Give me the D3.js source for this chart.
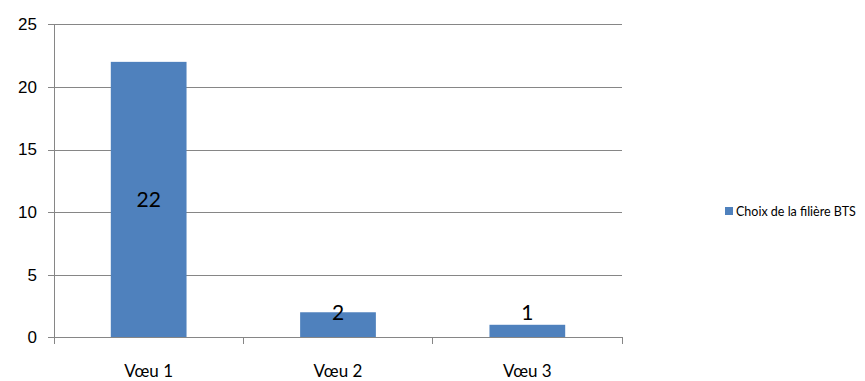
<!DOCTYPE html>
<html>
<head>
<meta charset="utf-8">
<script src="https://cdn.jsdelivr.net/npm/d3@7"></script>
<style>
  html, body { margin: 0; padding: 0; background: #fff; }
  svg { display: block; font-family: Lato, "Open Sans", sans-serif; }
</style>
</head>
<body>
<svg id="chart" width="865" height="381"></svg>
<script>
const categories = ["Vœu 1", "Vœu 2", "Vœu 3"];
const values = [22, 2, 1];
const yTicks = [0, 5, 10, 15, 20, 25];
const seriesName = "Choix de la filière BTS";

const W = 865, H = 381;
const margin = { top: 24.3, right: 243, bottom: 43.7, left: 54 };
const innerW = W - margin.left - margin.right;
const innerH = H - margin.top - margin.bottom;
const gridColor = "#868686";
const barColor = "#4F81BD";

const svg = d3.select("#chart");
const g = svg.append("g").attr("transform", `translate(${margin.left},${margin.top})`);

const x = d3.scaleBand().domain(categories).range([0, innerW]).paddingInner(0.6).paddingOuter(0.3);
const xCat = d3.scaleBand().domain(categories).range([0, innerW]);
const y = d3.scaleLinear().domain([0, 25]).range([innerH, 0]);

// horizontal gridlines + left ticks
g.append("g")
  .call(d3.axisLeft(y).tickValues(yTicks).tickSize(-innerW).tickPadding(17))
  .call(ax => ax.select(".domain").remove())
  .call(ax => ax.selectAll(".tick line").attr("stroke", gridColor).attr("x1", -6).attr("shape-rendering", "crispEdges"))
  .call(ax => ax.selectAll("text").attr("font-size", 17).attr("fill", "#000"));

// vertical axis line
g.append("line")
  .attr("x1", 0).attr("x2", 0).attr("y1", 0).attr("y2", innerH)
  .attr("stroke", gridColor).attr("shape-rendering", "crispEdges");

// bars
g.selectAll("rect.bar")
  .data(values)
  .join("rect")
  .attr("class", "bar")
  .attr("x", (d, i) => x(categories[i]))
  .attr("y", d => y(d))
  .attr("width", x.bandwidth())
  .attr("height", d => innerH - y(d))
  .attr("fill", barColor);

// bottom axis
g.append("line")
  .attr("x1", 0).attr("x2", innerW).attr("y1", innerH).attr("y2", innerH)
  .attr("stroke", gridColor).attr("shape-rendering", "crispEdges");
const bounds = categories.map(c => xCat(c)).concat([innerW]);
g.selectAll("line.xtick")
  .data(bounds)
  .join("line")
  .attr("class", "xtick")
  .attr("x1", d => d).attr("x2", d => d)
  .attr("y1", innerH).attr("y2", innerH + 7)
  .attr("stroke", gridColor).attr("shape-rendering", "crispEdges");
g.selectAll("text.xlab")
  .data(categories)
  .join("text")
  .attr("class", "xlab")
  .attr("x", d => xCat(d) + xCat.bandwidth() / 2)
  .attr("y", innerH + 40)
  .attr("text-anchor", "middle")
  .attr("font-size", 17)
  .attr("fill", "#000")
  .text(d => d);

// data labels
g.selectAll("text.dlab")
  .data(values)
  .join("text")
  .attr("class", "dlab")
  .attr("x", (d, i) => x(categories[i]) + x.bandwidth() / 2)
  .attr("y", d => Math.min(y(d / 2), innerH - 25))
  .attr("dy", "0.36em")
  .attr("text-anchor", "middle")
  .attr("font-size", 21)
  .attr("fill", "#000")
  .text(d => d);

// legend (narrow face so the label fits like Calibri does)
const lg = svg.append("g").attr("transform", "translate(725,207)");
lg.append("rect").attr("width", 8).attr("height", 8).attr("fill", barColor);
const lt = lg.append("text")
  .attr("x", 11).attr("y", 4).attr("dy", "0.36em")
  .attr("font-family", "'Liberation Sans Narrow', Lato, sans-serif")
  .attr("font-size", 16).attr("fill", "#000")
  .text(seriesName);
let fs = 16;
while (fs > 10 && lt.node().getComputedTextLength() > 124) {
  fs -= 0.5;
  lt.attr("font-size", fs);
}
</script>
</body>
</html>
